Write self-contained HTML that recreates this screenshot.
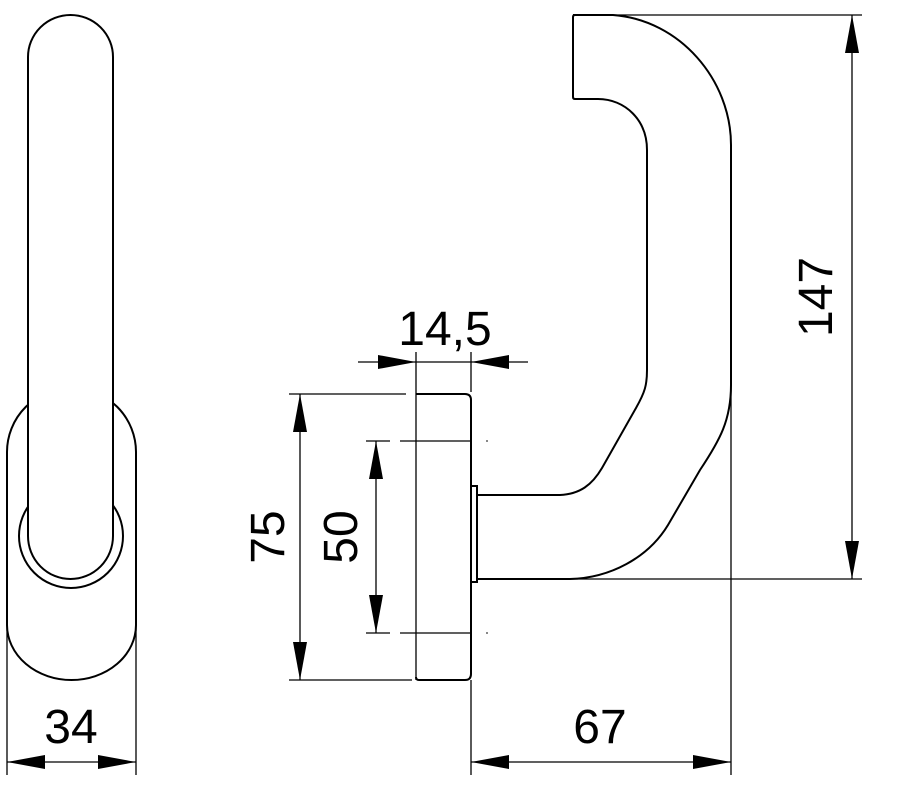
<!DOCTYPE html>
<html><head><style>html,body{margin:0;padding:0;background:#fff;}svg{display:block}</style></head>
<body>
<svg width="899" height="800" viewBox="0 0 899 800" xmlns="http://www.w3.org/2000/svg">
<g fill="#fff" stroke="#000" stroke-width="2">
  <path d="M7,452 A64.5,64 0 0 1 136,452 L136,625 A64.5,55 0 0 1 7,625 Z"/>
  <circle cx="71" cy="536" r="52"/>
  <path d="M28,57 A42.5,42 0 0 1 113,57 L113,536 A42.5,43 0 0 1 28,536 Z"/>
</g>
<g fill="none" stroke="#000" stroke-width="1.3">
  <line x1="7" y1="625" x2="7" y2="775"/>
  <line x1="136" y1="625" x2="136" y2="775"/>
  <line x1="7" y1="762" x2="136" y2="762"/>
  <line x1="416" y1="352" x2="416" y2="680"/>
  <line x1="471" y1="352" x2="471" y2="392"/>
  <line x1="471" y1="680" x2="471" y2="775"/>
  <line x1="358" y1="362" x2="528" y2="362"/>
  <line x1="289" y1="394" x2="406" y2="394"/>
  <line x1="289" y1="680" x2="412" y2="680"/>
  <line x1="300" y1="394" x2="300" y2="680"/>
  <line x1="366" y1="441" x2="390" y2="441"/>
  <line x1="400" y1="441" x2="471" y2="441"/>
  <line x1="366" y1="633" x2="390" y2="633"/>
  <line x1="400" y1="633" x2="471" y2="633"/>
  <line x1="376" y1="441" x2="376" y2="633"/>
  <line x1="613" y1="15" x2="862" y2="15"/>
  <line x1="570" y1="579" x2="862" y2="579"/>
  <line x1="852" y1="15" x2="852" y2="579"/>
  <line x1="731" y1="380" x2="731" y2="775"/>
  <line x1="471" y1="762" x2="731" y2="762"/>
</g>
<g fill="#888"><rect x="486" y="440" width="2" height="2"/><rect x="486" y="632" width="2" height="2"/></g>
<g fill="none" stroke="#000" stroke-width="2">
  <path d="M416,394 L465,394 Q471,394 471,400 L471,674 Q471,680 465,680 L419,680 Q416,680 416,677"/>
  <rect x="471" y="486" width="6" height="96"/>
  <path d="M573,15 L613,15 C680,20 731,80 731,145 L731,385 C731,420 720,440 700,470 L668,525 C648,558 610,578 570,579 L478,579 M478,495 L560,495 C580,494 592,485 602,468 L636,408 C645,392 647,385 647,370 L647,150 C647,120 625,99 598,99 L575,99 Q573,99 573,97 L573,17 Q573,15 575,15"/>
</g>
<g fill="#000">
  <polygon points="7,762 45,755 45,769"/>
  <polygon points="136,762 98,755 98,769"/>
  <polygon points="416,362 378,355 378,369"/>
  <polygon points="471,362 509,355 509,369"/>
  <polygon points="300,394 293,432 307,432"/>
  <polygon points="300,680 293,642 307,642"/>
  <polygon points="376,441 369,479 383,479"/>
  <polygon points="376,633 369,595 383,595"/>
  <polygon points="852,15 845,53 859,53"/>
  <polygon points="852,579 845,541 859,541"/>
  <polygon points="471,762 509,755 509,769"/>
  <polygon points="731,762 693,755 693,769"/>
</g>
<g font-family="Liberation Sans, sans-serif" font-size="48" fill="#000" text-anchor="middle">
  <text x="71" y="743">34</text>
  <text x="600" y="743">67</text>
  <text x="445" y="345">14,5</text>
  <text transform="translate(284,537) rotate(-90)">75</text>
  <text transform="translate(357,537) rotate(-90)">50</text>
  <text transform="translate(832,297) rotate(-90)">147</text>
</g>
</svg>
</body></html>
